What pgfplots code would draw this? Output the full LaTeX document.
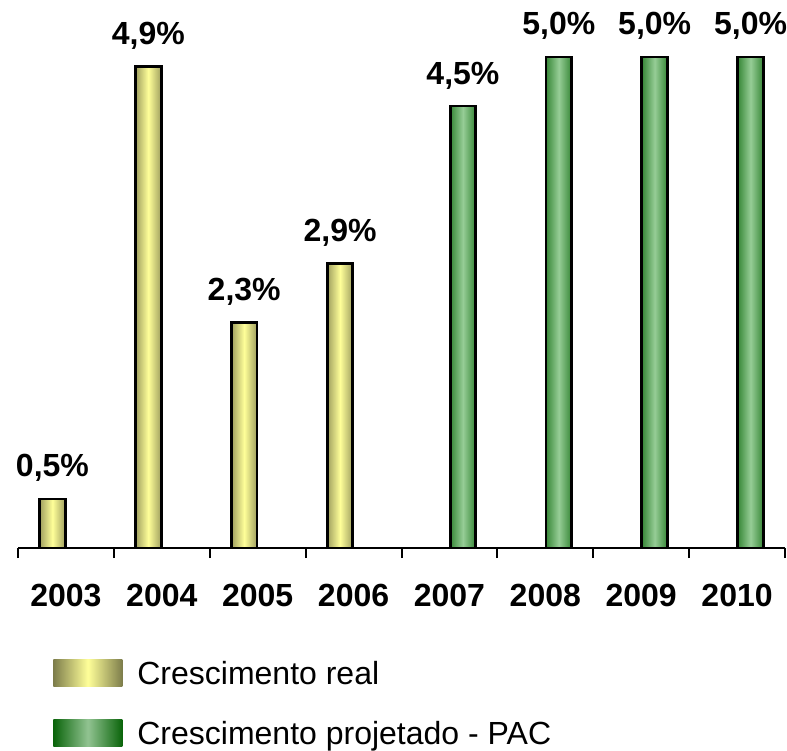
\documentclass[border=0pt]{standalone}
\usepackage{pgfplots}
\pgfplotsset{compat=1.18}
\usepackage{fontspec}
\setmainfont{Liberation Sans}
\definecolor{yedge}{RGB}{125,125,75}
\definecolor{ymid}{RGB}{255,255,153}
\definecolor{gedge}{RGB}{10,100,10}
\definecolor{gmid}{RGB}{145,195,145}
\definecolor{yedgeb}{RGB}{160,160,95}
\definecolor{gedgeb}{RGB}{55,135,55}
\definecolor{gmidb}{RGB}{150,205,150}
\begin{document}
\begin{tikzpicture}
\useasboundingbox (0,0) rectangle (393.5pt,375pt);
\begin{axis}[
 at={(9pt,101pt)}, anchor=south west,
 scale only axis, width=383.5pt, height=245.5pt,
 xmin=0.5, xmax=8.5, ymin=0, ymax=5,
 axis x line=bottom, axis y line=none,
 x axis line style={-, line width=1pt},
 xtick={1,...,8}, xticklabels={2003,2004,2005,2006,2007,2008,2009,2010},
 major tick length=0pt,
 minor xtick={0.5,1.5,...,8.5}, minor tick length=5pt, tick align=outside,
 minor tick style={line width=1pt, black},
 xticklabel style={font=\fontsize{16}{19}\selectfont\bfseries, yshift=-14.5pt},
 /pgf/number format/assume math mode=true,
 clip=false,
 ybar, bar width=12.8pt,
 nodes near coords={\pgfmathprintnumber[fixed,fixed zerofill,precision=1,use comma,assume math mode=true]{\pgfplotspointmeta}\%},
 every node near coord/.append style={font=\fontsize{16}{19}\selectfont\bfseries, yshift=4.5pt, black},
 yellowbar/.style={ybar, bar shift=-6.75pt, draw=black, line width=1.4pt, left color=yedgeb, right color=yedgeb, middle color=ymid, forget plot},
 greenbar/.style={ybar, bar shift=6.75pt, draw=black, line width=1.4pt, left color=gedgeb, right color=gedgeb, middle color=gmidb, forget plot},
 legend style={at={(axis description cs:0.0456,-0.3147)}, anchor=west, draw=none, fill=none,
   inner sep=0pt, nodes={inner sep=0pt, anchor=west}, column sep=7.5pt, row sep=16.5pt,
   font=\fontsize{16}{19}\selectfont},
 legend cell align=left,
]
\addplot[yellowbar] coordinates {(1,0.5)};
\addplot[yellowbar] coordinates {(2,4.9)};
\addplot[yellowbar] coordinates {(3,2.3)};
\addplot[yellowbar] coordinates {(4,2.9)};
\addplot[greenbar] coordinates {(5,4.5)};
\addplot[greenbar] coordinates {(6,5.0)};
\addplot[greenbar] coordinates {(7,5.0)};
\addplot[greenbar] coordinates {(8,5.0)};
\addlegendimage{draw=none, legend image code/.code={\path[draw=none, left color=yedge,right color=yedge,middle color=ymid] (0pt,-6.75pt) rectangle (34.5pt,6.75pt);}}
\addlegendentry[text depth=0pt, text height=11.5pt]{Crescimento real}
\addlegendimage{draw=none, legend image code/.code={\path[draw=none, left color=gedge,right color=gedge,middle color=gmid] (0pt,-6.75pt) rectangle (34.5pt,6.75pt);}}
\addlegendentry[text depth=0pt, text height=11.5pt]{Crescimento projetado - PAC}
\end{axis}
\end{tikzpicture}
\end{document}
